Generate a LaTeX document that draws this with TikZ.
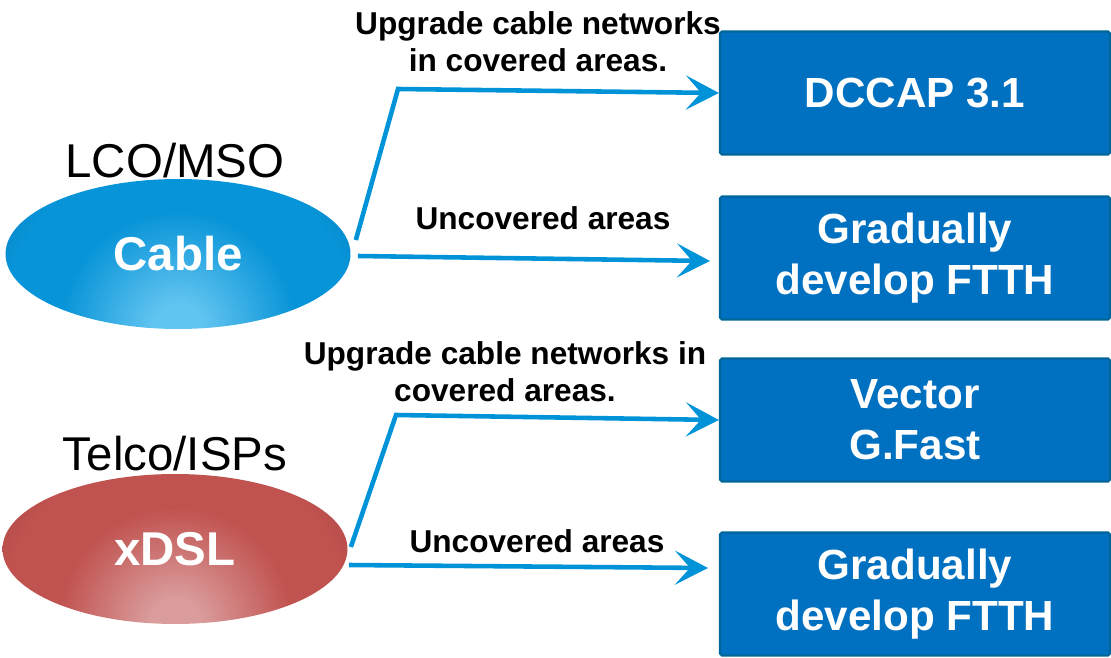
\documentclass[tikz,border=0pt]{standalone}
\usepackage{fontspec}
\setmainfont{Liberation Sans}
\usetikzlibrary{shapes.geometric,arrows.meta}

\definecolor{boxblue}{HTML}{0070C0}
\definecolor{boxedge}{HTML}{00669A}
\definecolor{linkblue}{HTML}{0093D8}
\definecolor{cablelight}{HTML}{62C4F0}
\definecolor{cablemid}{HTML}{0894D8}
\definecolor{cabledark}{HTML}{00609A}
\definecolor{dsllight}{HTML}{DA9C9C}
\definecolor{dslmid}{HTML}{C0524F}
\definecolor{dsldark}{HTML}{813232}

\pgfdeclareradialshading{cableglow}{\pgfpoint{0bp}{0bp}}{color(0bp)=(cablelight); color(3bp)=(cablelight); color(14bp)=(cablemid); color(21bp)=(cablemid); color(30bp)=(cablemid!45!cabledark); color(38bp)=(cabledark); color(50bp)=(cabledark)}
\pgfdeclareradialshading{dslglow}{\pgfpoint{0bp}{0bp}}{color(0bp)=(dsllight); color(3bp)=(dsllight); color(14bp)=(dslmid); color(21bp)=(dslmid); color(30bp)=(dslmid!45!dsldark); color(38bp)=(dsldark); color(50bp)=(dsldark)}

\begin{document}
\begin{tikzpicture}[x=0.02cm,y=-0.02cm,
    market/.style ={ellipse, inner sep=0pt, minimum width=6.9cm, minimum height=3.0cm,
      text=white, font=\bfseries\fontsize{27}{30}\selectfont,
      path picture={\shade[shading=#1] (path picture bounding box.south) circle (4.2cm);}},
    player/.style ={font=\fontsize{27}{30}\selectfont},
    solution/.style ={rectangle, draw=boxedge, line width=1.2pt, fill=boxblue, rounded corners=1pt,
      minimum width=7.8cm, minimum height=2.46cm, align=center, text=white,
      font=\bfseries\fontsize{24}{29}\selectfont},
    remark/.style ={align=center, font=\bfseries\fontsize{18}{21}\selectfont},
    link/.style ={draw=linkblue, line width=2.6pt,
      -{Stealth[length=0.66cm, width=0.68cm, inset=0.3cm]}}]
   \useasboundingbox (0,0) rectangle (1111,658);
   % left side
   \node[player] (lco) at (175,161) {LCO/MSO};
   \node[market=cableglow] (cable) at (178,254) {Cable};
   \node[player] (telco) at (175,454) {Telco/ISPs};
   \node[market=dslglow] (xdsl) at (175,549) {xDSL};
   % right side
   \node[solution] (docsis) at (915,93) {DCCAP 3.1};
   \node[solution] (ftthA) at (915,258) {Gradually\\develop FTTH};
   \node[solution] (vector) at (915,420) {Vector\\G.Fast};
   \node[solution] (ftthB) at (915,594) {Gradually\\develop FTTH};
   % labels
   \node[remark] (upA) at (538,42) {Upgrade cable networks\\in covered areas.};
   \node[remark] (unA) at (543,218) {Uncovered areas};
   \node[remark] (upB) at (505,372) {Upgrade cable networks in\\covered areas.};
   \node[remark] (unB) at (537,541) {Uncovered areas};
   % links
   \coordinate (bendA) at (398,89);
   \coordinate (bendB) at (396,415);
   \draw[link] ([shift={(5,-14)}]cable.east) -- (bendA) -- (docsis.west);
   \draw[link] ([shift={(7,2)}]cable.east) -- ([shift={(-9,3)}]ftthA.west);
   \draw[link] ([shift={(3,-2)}]xdsl.east) -- (bendB) -- (vector.west);
   \draw[link] ([shift={(1,16)}]xdsl.east) -- ([shift={(-11,-26)}]ftthB.west);
 \end{tikzpicture}
\end{document}
